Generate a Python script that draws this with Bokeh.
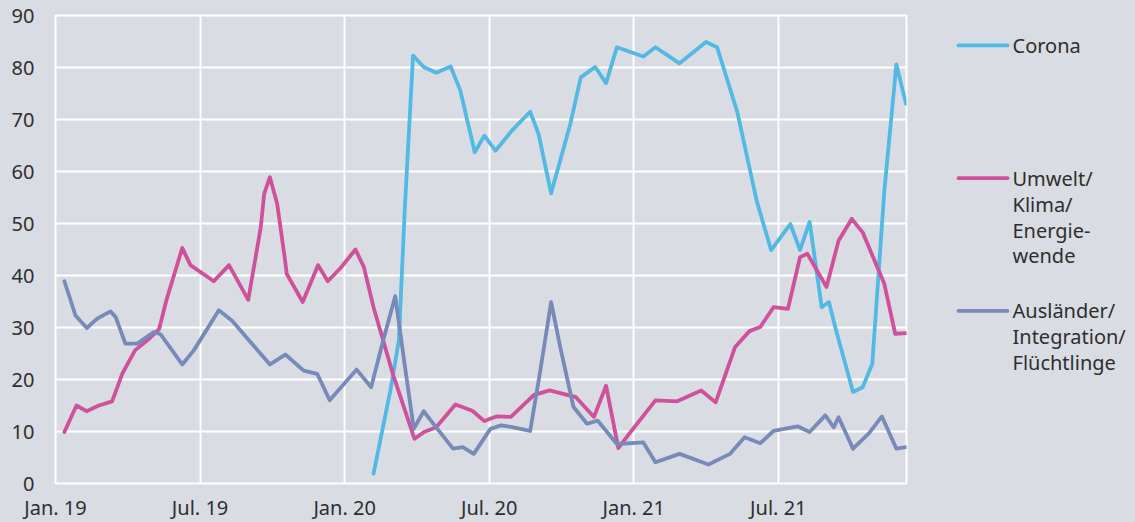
from bokeh.plotting import figure
from bokeh.layouts import row
from bokeh.models import Range1d, FixedTicker
from bokeh.core.properties import value
from bokeh.embed import file_html
from bokeh.resources import INLINE

# months since Jan 2019
tick_pos = [0, 6, 12, 18, 24, 30]
tick_labels = ["Jan. 19", "Jul. 19", "Jan. 20", "Jul. 20", "Jan. 21", "Jul. 21"]

corona_x = [13.2, 13.9, 14.25, 14.5, 14.84, 15.28, 15.8, 16.4, 16.8, 17.4, 17.8, 18.26, 18.95,
            19.7, 20.05, 20.57, 21.37, 21.8, 22.4, 22.85, 23.3, 24.4, 24.9, 25.9, 27.0, 27.46,
            28.3, 29.1, 29.7, 30.5, 30.9, 31.3, 31.8, 32.1, 32.4, 33.1, 33.5, 33.9, 34.4, 34.9, 35.3]
corona_y = [1.9, 17.9, 27.5, 53.1, 82.3, 80.1, 79.0, 80.2, 75.6, 63.7, 66.9, 64.0, 67.9,
            71.5, 67.2, 55.8, 69.2, 78.1, 80.1, 77.0, 83.9, 82.1, 83.9, 80.8, 84.9, 83.9,
            71.4, 54.4, 44.9, 49.9, 44.9, 50.3, 33.9, 34.9, 29.4, 17.6, 18.5, 23.0, 56.3, 80.6, 73.0]

umwelt_x = [0.37, 0.87, 1.29, 1.8, 2.35, 2.77, 3.3, 3.9, 4.3, 4.6, 5.26, 5.6, 6.57, 7.2, 8.0,
            8.52, 8.66, 8.9, 9.2, 9.49, 9.6, 10.26, 10.9, 11.3, 11.84, 12.45, 12.8, 13.2, 14.0,
            14.9, 15.3, 15.8, 16.6, 17.3, 17.8, 18.3, 18.9, 19.85, 20.5, 21.6, 22.35, 22.85,
            23.36, 23.8, 24.9, 25.8, 26.8, 27.4, 28.2, 28.8, 29.25, 29.8, 30.4, 30.9, 31.2,
            32.0, 32.5, 33.05, 33.5, 34.4, 34.85, 35.3]
umwelt_y = [9.9, 15.0, 13.9, 15.0, 15.8, 21.1, 25.6, 27.9, 29.7, 35.2, 45.3, 42.0, 38.9, 42.0, 35.3,
            49.3, 55.7, 58.9, 53.8, 44.2, 40.3, 34.9, 42.0, 38.9, 41.5, 45.0, 41.6, 33.9, 21.1,
            8.6, 9.9, 10.8, 15.2, 14.0, 12.0, 12.9, 12.8, 17.0, 17.9, 16.6, 12.8, 18.8,
            6.8, 9.5, 16.0, 15.8, 17.9, 15.6, 26.2, 29.3, 30.1, 33.9, 33.6, 43.5, 44.2,
            37.8, 46.7, 50.9, 48.3, 38.4, 28.8, 28.9]

auslaender_x = [0.37, 0.83, 1.3, 1.73, 2.28, 2.5, 2.9, 3.39, 4.08, 4.36, 5.26, 5.74, 6.78, 7.33,
                8.09, 8.9, 9.54, 10.3, 10.86, 11.38, 12.5, 13.1, 13.6, 14.1, 14.45, 14.87, 15.28,
                15.8, 16.5, 16.9, 17.36, 18.05, 18.5, 19.0, 19.7, 20.1, 20.57, 20.95, 21.5, 22.06,
                22.5, 23.3, 24.4, 24.9, 25.9, 27.1, 28.0, 28.6, 29.25, 29.8, 30.8, 31.3, 31.95,
                32.3, 32.5, 33.1, 33.75, 34.3, 34.9, 35.3]
auslaender_y = [38.9, 32.3, 29.9, 31.7, 33.1, 32.0, 26.9, 26.9, 29.1, 28.7, 22.9, 25.6, 33.3, 31.3,
                27.2, 22.9, 24.8, 21.7, 21.1, 16.0, 21.9, 18.5, 27.5, 36.0, 24.3, 10.5, 13.9,
                10.8, 6.7, 7.0, 5.7, 10.5, 11.2, 10.8, 10.1, 21.1, 34.9, 26.2, 14.7, 11.5,
                12.1, 7.6, 7.9, 4.1, 5.7, 3.65, 5.7, 8.9, 7.75, 10.1, 11.0, 9.9, 13.1,
                10.8, 12.75, 6.7, 9.6, 12.9, 6.7, 7.0]

series_names = ["Corona", "Umwelt/\nKlima/\nEnergie-\nwende", "Ausländer/\nIntegration/\nFlüchtlinge"]
series_colors = ["#52b9e5", "#d0519b", "#778ab9"]

BG = "#d9dce2"
TXT = "#2e2e2e"
FONT = "Noto Sans"
FS = "20px"
LW = 3.8

p = figure(frame_width=851, frame_height=468, output_backend="svg", toolbar_location=None,
           x_range=Range1d(0, 35.32), y_range=Range1d(0, 90),
           min_border_left=55, min_border_right=12, min_border_top=15, min_border_bottom=39)
p.background_fill_color = BG
p.border_fill_color = BG
p.outline_line_color = "white"
p.outline_line_width = 2

for xs, ys, c in [(corona_x, corona_y, series_colors[0]),
                  (umwelt_x, umwelt_y, series_colors[1]),
                  (auslaender_x, auslaender_y, series_colors[2])]:
    p.line(xs, ys, line_color=c, line_width=LW, line_join="round", line_cap="round")

p.xaxis.ticker = FixedTicker(ticks=tick_pos)
p.xaxis.major_label_overrides = {t: l for t, l in zip(tick_pos, tick_labels)}
p.yaxis.ticker = FixedTicker(ticks=list(range(0, 91, 10)))
for ax in (p.xaxis, p.yaxis):
    ax.axis_line_color = None
    ax.major_tick_line_color = None
    ax.minor_tick_line_color = None
    ax.major_tick_out = 0
    ax.major_tick_in = 0
    ax.minor_tick_out = 0
    ax.major_label_text_font = FONT
    ax.major_label_text_font_size = FS
    ax.major_label_text_color = TXT
p.xaxis.major_label_standoff = 10
p.yaxis.major_label_standoff = 21
p.xgrid.ticker = FixedTicker(ticks=tick_pos)
p.ygrid.ticker = FixedTicker(ticks=list(range(0, 91, 10)))
p.grid.grid_line_color = "white"
p.grid.grid_line_width = 2

# legend panel: its frame is aligned with the main frame (y 15..483 on the page)
LG_W = 1135 - (55 + 851 + 12)
lg = figure(width=LG_W, height=522, output_backend="svg", toolbar_location=None,
            x_range=Range1d(0, LG_W), y_range=Range1d(483, 15), min_border=0)
lg.background_fill_color = BG
lg.border_fill_color = BG
lg.outline_line_color = None
lg.axis.visible = False
lg.grid.visible = False

item_tops = [45, 178, 311]
line_h = 26
for name, c, top in zip(series_names, series_colors, item_tops):
    lg.segment(x0=[40], y0=[top], x1=[89], y1=[top], line_color=c, line_width=LW, line_cap="round")
    lines = name.split("\n")
    lg.text(x=[94] * len(lines), y=[top + i * line_h for i in range(len(lines))], text=lines,
            text_font=value(FONT), text_font_size=FS, text_color=TXT,
            text_baseline="middle", text_align="left")

layout = row(p, lg, styles={"background-color": BG})
open("out.html", "w").write(file_html(layout, INLINE))
